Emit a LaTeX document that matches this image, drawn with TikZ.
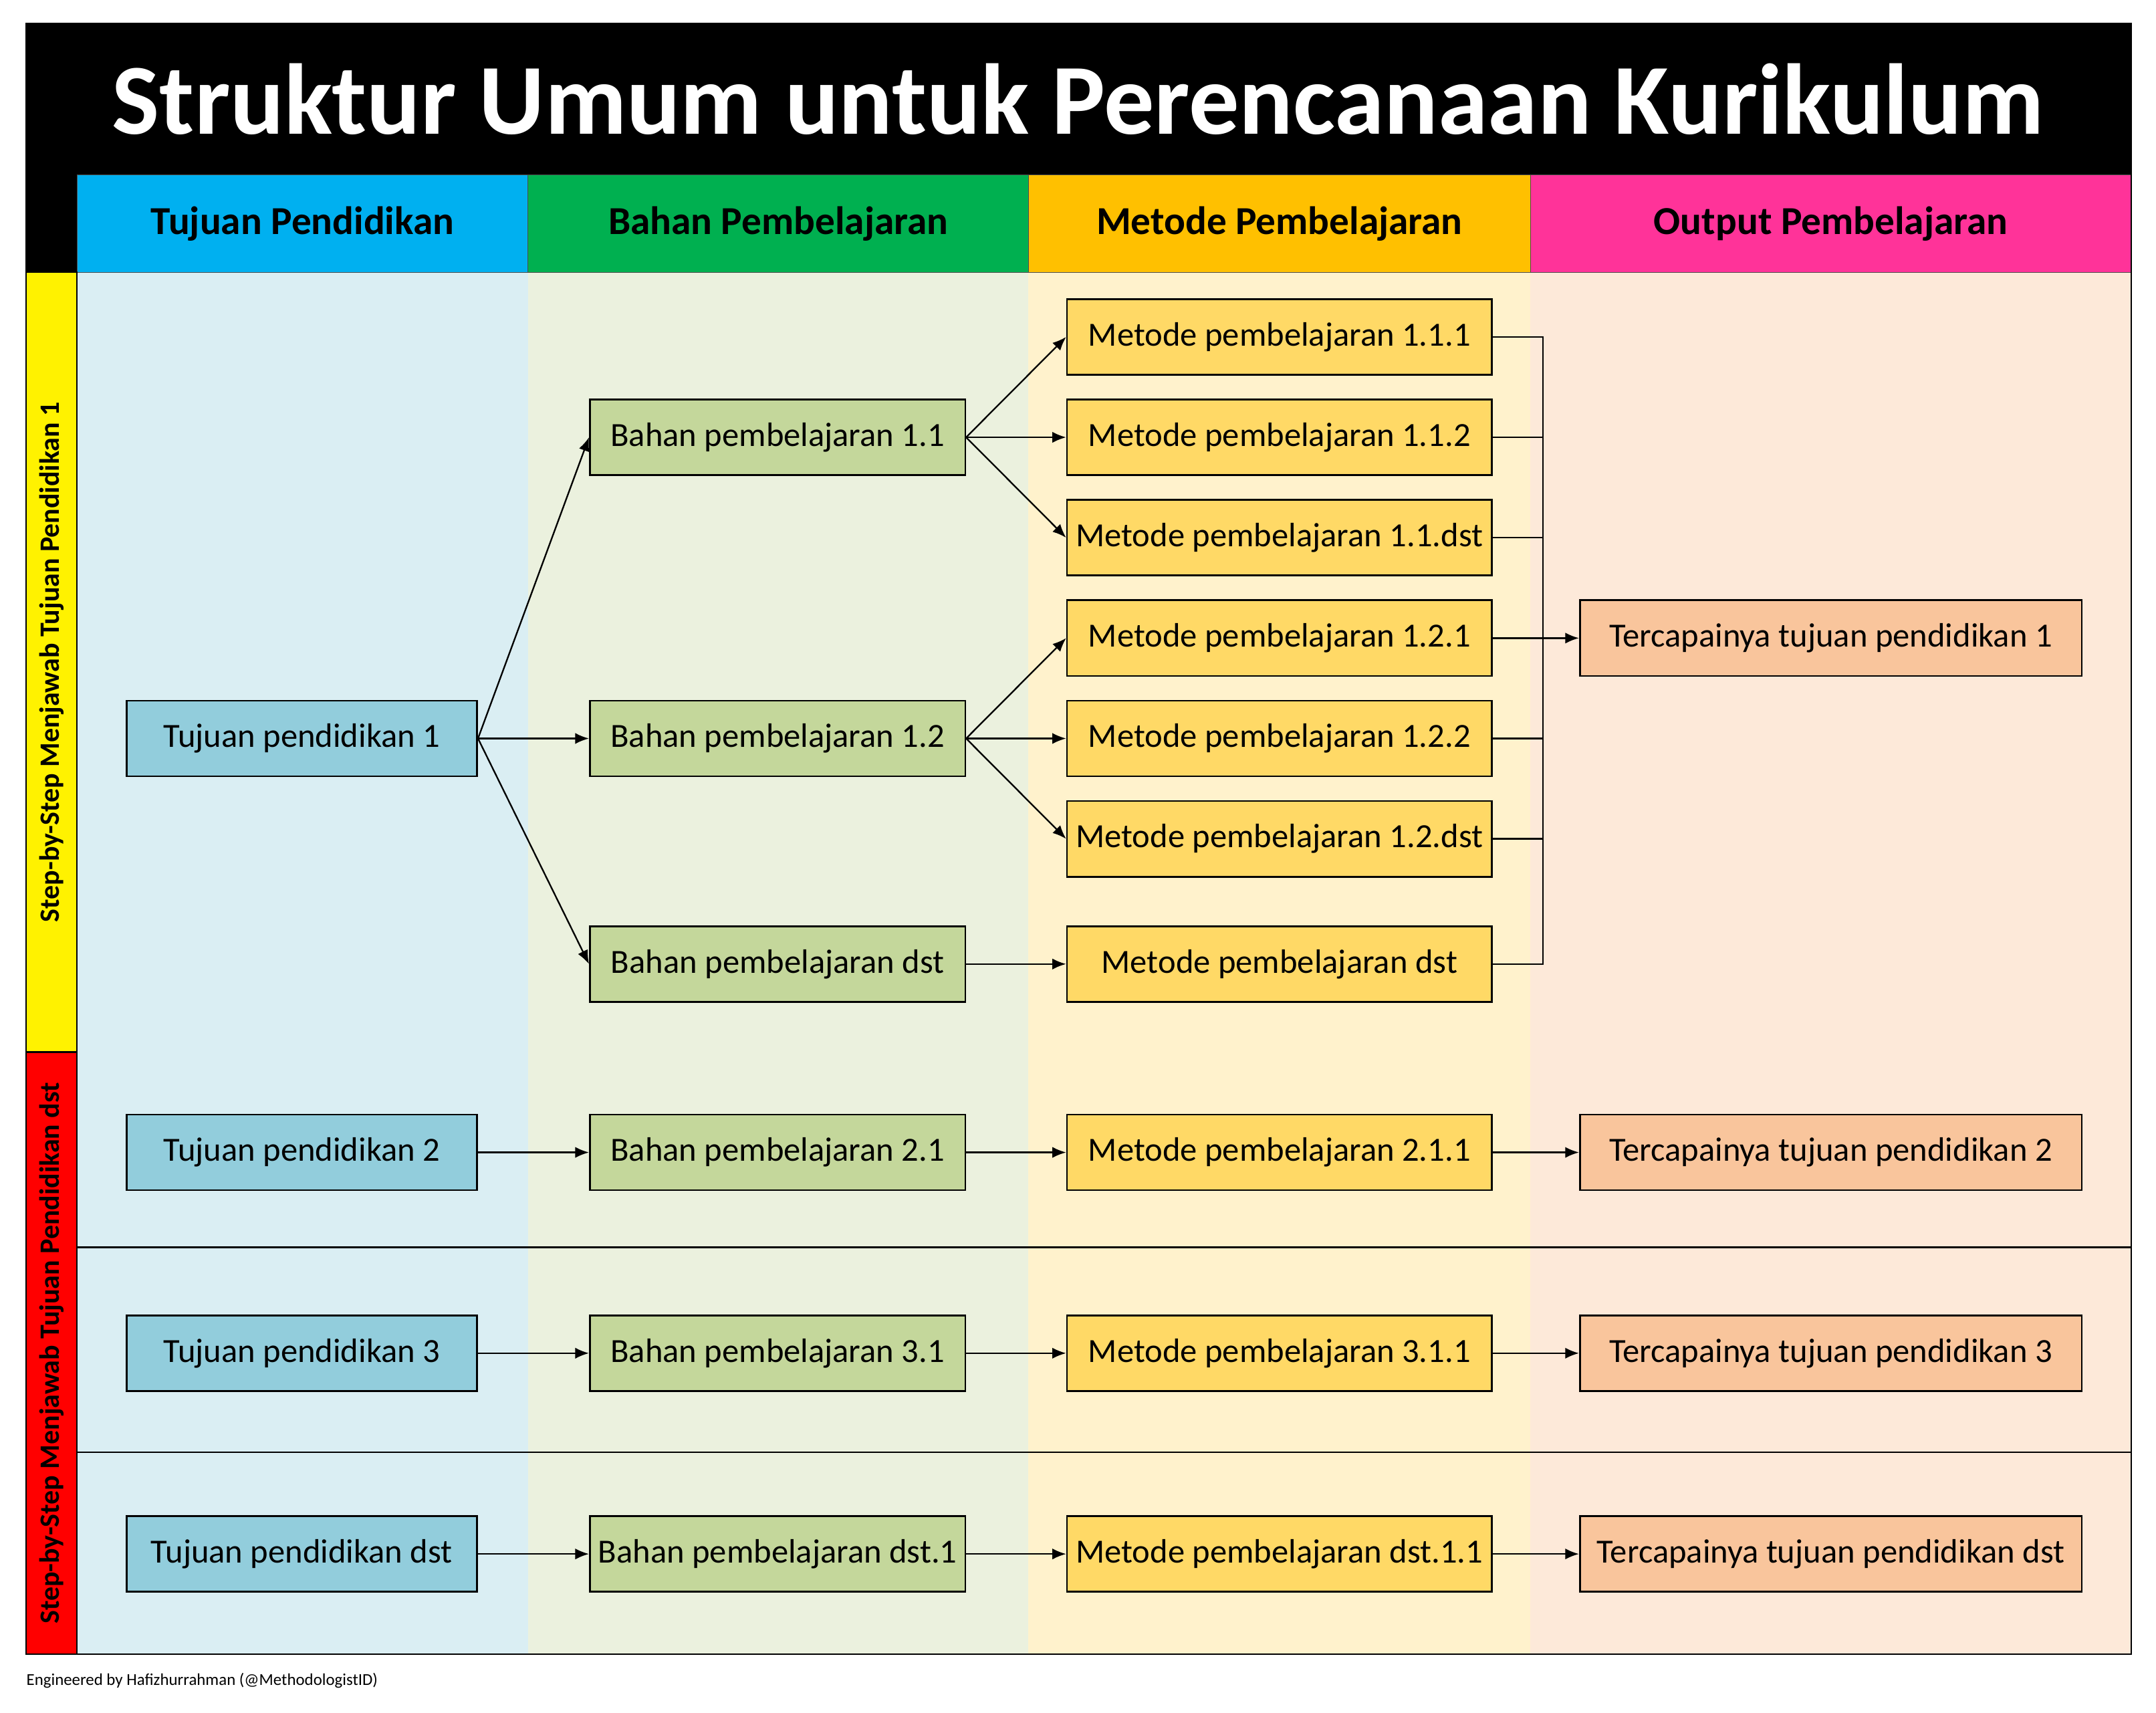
\documentclass[tikz,border=0pt]{standalone}
\usepackage{fontspec}
\setmainfont{Carlito}
\usetikzlibrary{arrows.meta}

\definecolor{hdrBlue}{HTML}{00B0F0}
\definecolor{hdrGreen}{HTML}{00B050}
\definecolor{hdrGold}{HTML}{FFC000}
\definecolor{hdrPink}{HTML}{FF3399}
\definecolor{bgBlue}{HTML}{DAEEF3}
\definecolor{bgGreen}{HTML}{EBF1DE}
\definecolor{bgGold}{HTML}{FFF2CC}
\definecolor{bgPeach}{HTML}{FDE9D9}
\definecolor{boxBlue}{HTML}{92CDDC}
\definecolor{boxGreen}{HTML}{C4D79B}
\definecolor{boxGold}{HTML}{FFD966}
\definecolor{boxPeach}{HTML}{F9C59C}

\begin{document}
\begin{tikzpicture}[x=0.25mm, y=-0.25mm]
	\tikzstyle{boxStyle}=[draw, line width=0.9pt, minimum height=13.75mm, inner sep=0pt, font=\fontsize{17.5}{20}\selectfont]
	\tikzstyle{tujuanStyle}=[boxStyle, fill=boxBlue, minimum width=63.75mm]
	\tikzstyle{bahanStyle}=[boxStyle, fill=boxGreen, minimum width=68.25mm]
	\tikzstyle{metodeStyle}=[boxStyle, fill=boxGold, minimum width=77.25mm]
	\tikzstyle{outputStyle}=[boxStyle, fill=boxPeach, minimum width=91.25mm]
	\tikzstyle{headStyle}=[draw=black!70, thin, minimum height=17.75mm, inner sep=0pt, font=\fontsize{20.5}{24}\selectfont\bfseries]
	\tikzstyle{sideStyle}=[draw, line width=0.8pt, rotate=90, minimum height=9.25mm, inner sep=0pt, font=\fontsize{14.5}{17}\selectfont\bfseries]
	\tikzstyle{arrowStyle}=[-{Latex[length=2.5mm, width=2mm]}, line width=0.8pt]
	\tikzstyle{lineStyle}=[line width=0.8pt]
	\useasboundingbox (0,0) rectangle (1568,1245.6);
	% column backgrounds
	\fill[bgBlue] (56,198) rectangle (384,1203);
	\fill[bgGreen] (384,198) rectangle (748,1203);
	\fill[bgGold] (748,198) rectangle (1113,1203);
	\fill[bgPeach] (1113,198) rectangle (1550,1203);
	% title block
	\fill[black] (19,17) rectangle (1550,198);
	\node[text=white, font=\fontsize{52}{62}\selectfont\bfseries] (title) at (784,72) {Struktur Umum untuk Perencanaan Kurikulum};
	\node[headStyle, fill=hdrBlue, minimum width=82mm] (hTujuan) at (220,162.5) {Tujuan Pendidikan};
	\node[headStyle, fill=hdrGreen, minimum width=91mm] (hBahan) at (566,162.5) {Bahan Pembelajaran};
	\node[headStyle, fill=hdrGold, minimum width=91.25mm] (hMetode) at (930.5,162.5) {Metode Pembelajaran};
	\node[headStyle, fill=hdrPink, minimum width=109.25mm] (hOutput) at (1331.5,162.5) {Output Pembelajaran};
	% side labels
	\node[sideStyle, fill=yellow, minimum width=141.75mm] (sTujuan1) at (37.5,481.5) {Step-by-Step Menjawab Tujuan Pendidikan 1};
	\node[sideStyle, fill=red, minimum width=109.5mm] (sTujuanDst) at (37.5,984) {Step-by-Step Menjawab Tujuan Pendidikan dst};
	% row separators
	\draw[lineStyle] (56,907) -- (1550,907);
	\draw[lineStyle] (56,1056) -- (1550,1056);
	\draw[lineStyle] (19,17) rectangle (1550,1203);
	% tujuan pendidikan 1
	\node[tujuanStyle] (t1) at (219.5,537) {Tujuan pendidikan 1};
	\node[bahanStyle] (b11) at (565.5,318) {Bahan pembelajaran 1.1};
	\node[bahanStyle] (b12) at (565.5,537) {Bahan pembelajaran 1.2};
	\node[bahanStyle] (b1d) at (565.5,701) {Bahan pembelajaran dst};
	\node[metodeStyle] (m111) at (930.5,245) {Metode pembelajaran 1.1.1};
	\node[metodeStyle] (m112) at (930.5,318) {Metode pembelajaran 1.1.2};
	\node[metodeStyle] (m11d) at (930.5,391) {Metode pembelajaran 1.1.dst};
	\node[metodeStyle] (m121) at (930.5,464) {Metode pembelajaran 1.2.1};
	\node[metodeStyle] (m122) at (930.5,537) {Metode pembelajaran 1.2.2};
	\node[metodeStyle] (m12d) at (930.5,610) {Metode pembelajaran 1.2.dst};
	\node[metodeStyle] (m1d) at (930.5,701) {Metode pembelajaran dst};
	\node[outputStyle] (o1) at (1331.5,464) {Tercapainya tujuan pendidikan 1};
	% other rows
	\node[tujuanStyle] (t2) at (219.5,838) {Tujuan pendidikan 2};
	\node[bahanStyle] (b21) at (565.5,838) {Bahan pembelajaran 2.1};
	\node[metodeStyle] (m211) at (930.5,838) {Metode pembelajaran 2.1.1};
	\node[outputStyle] (o2) at (1331.5,838) {Tercapainya tujuan pendidikan 2};
	\node[tujuanStyle] (t3) at (219.5,984) {Tujuan pendidikan 3};
	\node[bahanStyle] (b31) at (565.5,984) {Bahan pembelajaran 3.1};
	\node[metodeStyle] (m311) at (930.5,984) {Metode pembelajaran 3.1.1};
	\node[outputStyle] (o3) at (1331.5,984) {Tercapainya tujuan pendidikan 3};
	\node[tujuanStyle] (td) at (219.5,1130) {Tujuan pendidikan dst};
	\node[bahanStyle] (bd1) at (565.5,1130) {Bahan pembelajaran dst.1};
	\node[metodeStyle] (md11) at (930.5,1130) {Metode pembelajaran dst.1.1};
	\node[outputStyle] (od) at (1331.5,1130) {Tercapainya tujuan pendidikan dst};
	% arrows
	\foreach \b in {b11,b12,b1d}
		\draw[arrowStyle] (t1.east) -- (\b.west);
	\foreach \m in {m111,m112,m11d}
		\draw[arrowStyle] (b11.east) -- (\m.west);
	\foreach \m in {m121,m122,m12d}
		\draw[arrowStyle] (b12.east) -- (\m.west);
	\draw[arrowStyle] (b1d) -- (m1d);
	\foreach \t/\b/\m/\o in {t2/b21/m211/o2, t3/b31/m311/o3, td/bd1/md11/od}{
		\draw[arrowStyle] (\t) -- (\b);
		\draw[arrowStyle] (\b) -- (\m);
		\draw[arrowStyle] (\m) -- (\o);
	}
	% merge line
	\coordinate (jTop) at (1122,245);
	\coordinate (jBot) at (1122,701);
	\draw[lineStyle] (m111.east) -- (jTop) -- (jBot) -- (m1d.east);
	\foreach \m in {m112,m11d,m121,m122,m12d}
		\draw[lineStyle] (\m.east) -- (\m.east -| jTop);
	\draw[arrowStyle] (m121.east -| jTop) -- (o1.west);
	% footer
	\node[anchor=west, inner sep=0pt, font=\fontsize{8.6}{10}\selectfont] (footer) at (19,1222) {Engineered by Hafizhurrahman (@MethodologistID)};
\end{tikzpicture}
\end{document}
